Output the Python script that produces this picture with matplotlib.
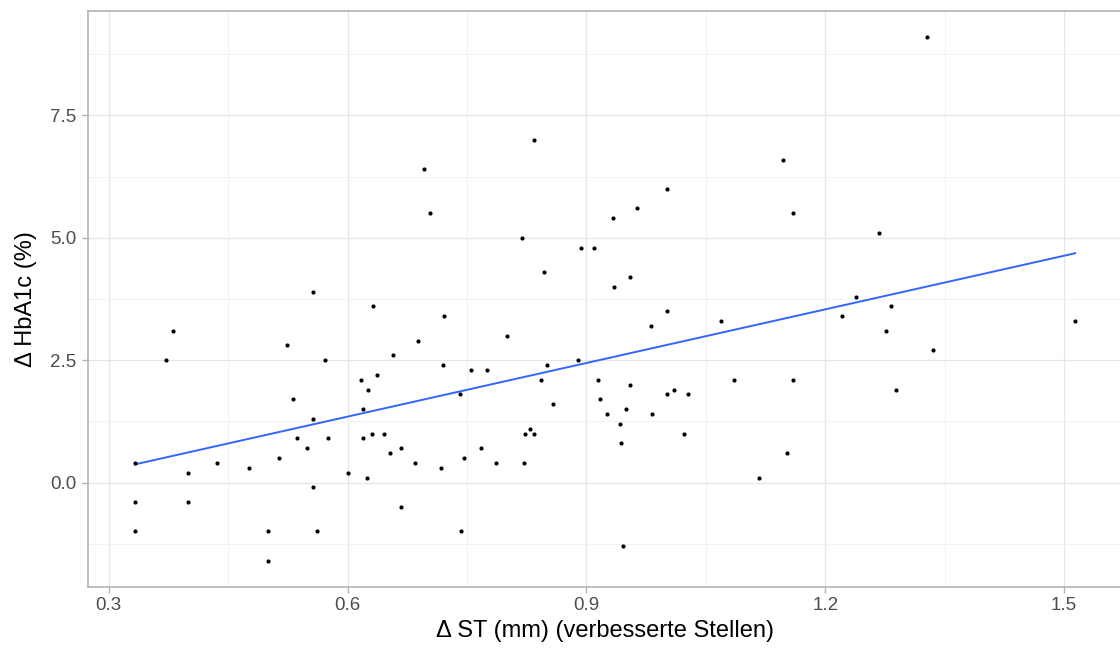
import numpy as np
import matplotlib
matplotlib.use("Agg")
import matplotlib.pyplot as plt
from matplotlib.ticker import MultipleLocator, FixedLocator

plt.rcParams['font.family'] = ['Liberation Sans', 'DejaVu Sans']

delta_st = [0.333, 0.333, 0.333, 0.372, 0.381, 0.400, 0.400, 0.436, 0.476, 0.500,
            0.500, 0.514, 0.524, 0.531, 0.536, 0.549, 0.556, 0.556, 0.556, 0.562,
            0.572, 0.575, 0.600, 0.617, 0.620, 0.620, 0.625, 0.626, 0.631, 0.632,
            0.637, 0.646, 0.653, 0.657, 0.667, 0.667, 0.685, 0.688, 0.696, 0.704,
            0.717, 0.720, 0.721, 0.741, 0.742, 0.746, 0.755, 0.767, 0.775, 0.786,
            0.800, 0.819, 0.822, 0.823, 0.829, 0.834, 0.834, 0.843, 0.847, 0.850,
            0.858, 0.889, 0.893, 0.910, 0.915, 0.917, 0.926, 0.934, 0.935, 0.942,
            0.943, 0.946, 0.950, 0.955, 0.955, 0.963, 0.981, 0.982, 1.001, 1.001,
            1.001, 1.010, 1.023, 1.028, 1.069, 1.085, 1.117, 1.147, 1.152, 1.159,
            1.160, 1.221, 1.239, 1.267, 1.276, 1.283, 1.289, 1.328, 1.335, 1.514]
delta_hba1c = [0.4, -0.4, -1.0, 2.5, 3.1, 0.2, -0.4, 0.4, 0.3, -1.0,
               -1.6, 0.5, 2.8, 1.7, 0.9, 0.7, 3.9, 1.3, -0.1, -1.0,
               2.5, 0.9, 0.2, 2.1, 1.5, 0.9, 0.1, 1.9, 1.0, 3.6,
               2.2, 1.0, 0.6, 2.6, 0.7, -0.5, 0.4, 2.9, 6.4, 5.5,
               0.3, 2.4, 3.4, 1.8, -1.0, 0.5, 2.3, 0.7, 2.3, 0.4,
               3.0, 5.0, 0.4, 1.0, 1.1, 7.0, 1.0, 2.1, 4.3, 2.4,
               1.6, 2.5, 4.8, 4.8, 2.1, 1.7, 1.4, 5.4, 4.0, 1.2,
               0.8, -1.3, 1.5, 4.2, 2.0, 5.6, 3.2, 1.4, 6.0, 3.5,
               1.8, 1.9, 1.0, 1.8, 3.3, 2.1, 0.1, 6.6, 0.6, 2.1,
               5.5, 3.4, 3.8, 5.1, 3.1, 3.6, 1.9, 9.1, 2.7, 3.3]

x_ticks = [0.3, 0.6, 0.9, 1.2, 1.5]
x_tick_labels = ["0.3", "0.6", "0.9", "1.2", "1.5"]
y_ticks = [0.0, 2.5, 5.0, 7.5]
y_tick_labels = ["0.0", "2.5", "5.0", "7.5"]

x = np.array(delta_st)
y = np.array(delta_hba1c)

fig = plt.figure(figsize=(11.2, 6.48), dpi=100)
ax = fig.add_axes([88/1120, 61/648, 1 - 88/1120 + 0.002, (587-11)/648])

# regression line (linear fit)
slope, intercept = np.polyfit(x, y, 1)
xl = np.array([x.min(), x.max()])
ax.plot(xl, intercept + slope * xl, color='#3366FF', lw=1.4, zorder=3)
ax.scatter(x, y, s=9, color='black', zorder=4, linewidths=0)

# limits with 5% expansion
xr = x.max() - x.min()
yr = y.max() - y.min()
ax.set_xlim(x.min() - 0.05 * xr, x.max() + 0.05 * xr)
ax.set_ylim(y.min() - 0.05 * yr, y.max() + 0.05 * yr)

ax.xaxis.set_major_locator(FixedLocator(x_ticks))
ax.set_xticklabels(x_tick_labels)
ax.yaxis.set_major_locator(FixedLocator(y_ticks))
ax.set_yticklabels(y_tick_labels)
ax.xaxis.set_minor_locator(MultipleLocator(0.15))
ax.yaxis.set_minor_locator(MultipleLocator(1.25))

ax.grid(which='major', color='#e6e6e6', lw=0.9, zorder=0)
ax.grid(which='minor', color='#f2f2f2', lw=0.7, zorder=0)
ax.set_axisbelow(True)

for s in ax.spines.values():
    s.set_color('#b3b3b3')
    s.set_linewidth(1.2)

ax.tick_params(which='major', length=4.5, width=1.0, color='#b3b3b3',
               labelsize=13.5, labelcolor='#4d4d4d', pad=3)
ax.tick_params(axis='y', which='major', pad=4)
ax.tick_params(which='minor', length=0)

ax.set_xlabel("Δ ST (mm) (verbesserte Stellen)", fontsize=17, color='black', labelpad=4)
ax.set_ylabel("Δ HbA1c (%)", fontsize=17, color='black', labelpad=9)

fig.savefig("out.png", dpi=100)
